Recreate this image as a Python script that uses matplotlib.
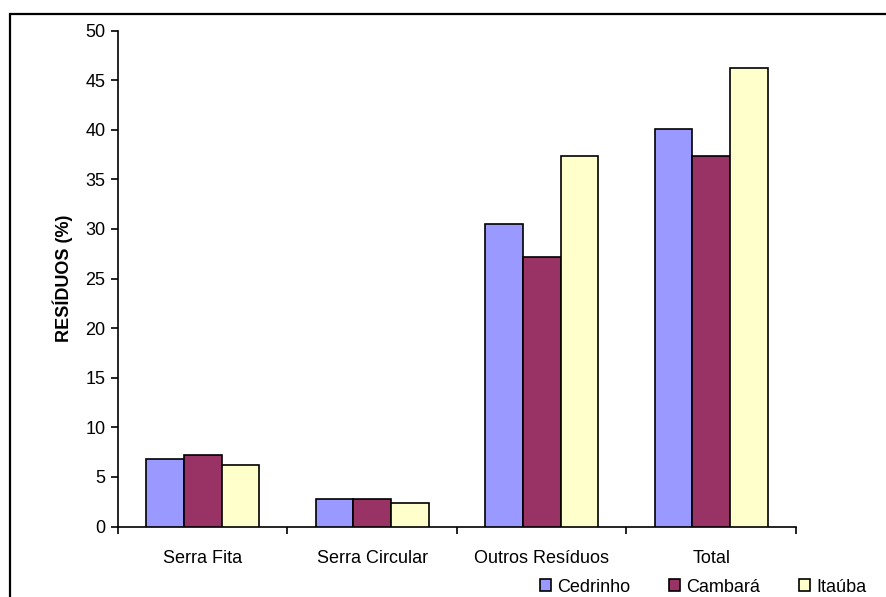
import numpy as np
import matplotlib.pyplot as plt
from matplotlib.patches import Rectangle

plt.rcParams['font.family'] = ['Liberation Sans', 'DejaVu Sans']

categorias = ['Serra Fita', 'Serra Circular', 'Outros Resíduos', 'Total']
especies = ['Cedrinho', 'Cambará', 'Itaúba']
cedrinho = [6.8, 2.8, 30.5, 40.1]
cambara = [7.2, 2.8, 27.2, 37.3]
itauba = [6.2, 2.4, 37.3, 46.2]
cores = ['#9999FF', '#993366', '#FFFFCC']

fig = plt.figure(figsize=(8.87, 5.97), dpi=100)
ax = fig.add_axes([118 / 887, 1 - 526.5 / 597, (796 - 118) / 887, (526.5 - 30.5) / 597])

x = np.arange(len(categorias))
w = 1 / 4.5  # largura de intervalo 150%
for i, (vals, nome, cor) in enumerate(zip([cedrinho, cambara, itauba], especies, cores)):
    ax.bar(x + (i - 1) * w, vals, width=w, color=cor, edgecolor='black',
           linewidth=1.2, label=nome, zorder=3)

ax.set_xlim(-0.5, len(categorias) - 0.5)
ax.set_ylim(0, 50)
ax.set_yticks(range(0, 51, 5))
ax.set_xticks(x)
ax.set_xticklabels(categorias)
ax.set_xticks(np.arange(-0.5, len(categorias)), minor=True)
ax.tick_params(axis='x', which='major', length=0, pad=17, labelsize=13)
ax.tick_params(axis='x', which='minor', length=5, width=1.2, direction='out')
ax.tick_params(axis='y', length=5, width=1.2, direction='out', labelsize=13, pad=4)

for lado in ['top', 'right']:
    ax.spines[lado].set_visible(False)
for lado in ['left', 'bottom']:
    ax.spines[lado].set_linewidth(1.2)

ax.set_ylabel('RESÍDUOS (%)', fontsize=13, fontweight='bold', labelpad=9)

fig.legend(loc='center', bbox_to_anchor=(703 / 887, 1 - 587 / 597), ncol=3,
           frameon=False, fontsize=13, handlelength=0.6, handleheight=0.6,
           handletextpad=0.35, columnspacing=2.15, borderpad=0.0)

# moldura da área do gráfico
fig.patches.append(Rectangle((10 / 887, -0.5), 2, 0.5 + 1 - 14 / 597,
                             transform=fig.transFigure, fill=False,
                             edgecolor='black', linewidth=1.6))

fig.savefig('out.png', dpi=100)
